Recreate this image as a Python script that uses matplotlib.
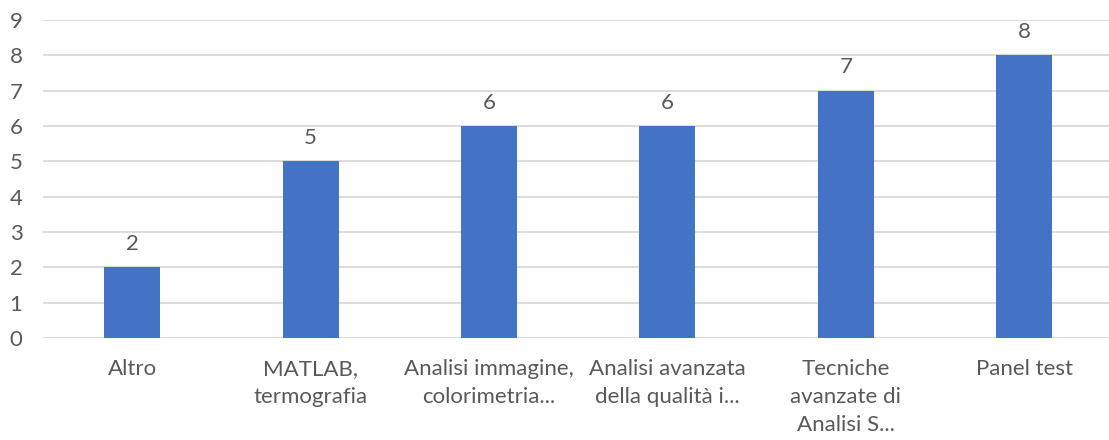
import matplotlib
matplotlib.use("Agg")
import matplotlib.pyplot as plt

categories = [
    "Altro",
    "MATLAB,\ntermografia",
    "Analisi immagine,\ncolorimetria...",
    "Analisi avanzata\ndella qualità i...",
    "Tecniche\navanzate di\nAnalisi S...",
    "Panel test",
]
values = [2, 5, 6, 6, 7, 8]
y_ticks = list(range(0, 10))

plt.rcParams["font.family"] = ["Lato", "DejaVu Sans"]
text_color = "#595959"
bar_color = "#4472C4"
grid_color = "#D9D9D9"
fs = 16

fig = plt.figure(figsize=(11.09, 4.40), dpi=100)
ax = fig.add_axes([43 / 1109, 1 - 338 / 440, 1 - 43 / 1109, (338 - 20) / 440])

x = list(range(len(categories)))
bars = ax.bar(x, values, width=0.314, color=bar_color, zorder=3)

for xi, v in zip(x, values):
    ax.annotate(str(v), (xi, v), xytext=(0, 9.5), textcoords="offset points",
                ha="center", va="bottom", fontsize=fs, color=text_color)

ax.set_xlim(-0.5, 5.475)
ax.set_ylim(0, 9)
ax.set_yticks(y_ticks)
ax.set_yticklabels([str(t) for t in y_ticks], fontsize=fs, color=text_color)
ax.set_xticks(x)
ax.set_xticklabels(categories, fontsize=fs, color=text_color, va="top",
                   linespacing=1.5)

ax.yaxis.grid(True, color=grid_color, linewidth=1.3, zorder=0)
ax.set_axisbelow(True)
for s in ax.spines.values():
    s.set_visible(False)
ax.tick_params(axis="both", length=0)
ax.tick_params(axis="x", pad=15)
ax.tick_params(axis="y", pad=24)
for lbl in ax.get_yticklabels():
    lbl.set_horizontalalignment("left")

fig.savefig("out.png", dpi=100, facecolor="white")
